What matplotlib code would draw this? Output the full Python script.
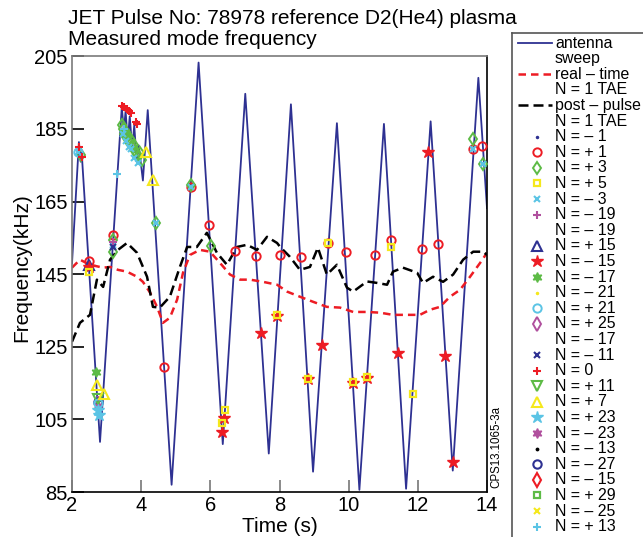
import matplotlib.pyplot as plt

plt.rcParams['font.family'] = ['Liberation Sans', 'DejaVu Sans']

# antenna sweep (triangle-like sweep of the antenna frequency)
ant_t = [2.0, 2.2, 2.25, 2.28, 2.81, 3.44, 3.5, 3.55, 3.61, 3.67, 3.74, 3.8, 3.87, 3.93, 4.05,
         4.19, 4.88, 5.66, 6.36, 7.01, 7.69, 8.33, 8.97, 9.66, 10.31, 11.02, 11.66, 12.37,
         13.01, 13.75, 14.0]
ant_f = [148.0, 181.4, 176.0, 178.5, 98.8, 191.0, 184.5, 190.0, 181.5, 188.5, 179.5, 186.0,
         176.0, 180.5, 170.8, 190.2, 87.0, 203.3, 98.2, 194.7, 95.6, 191.8, 90.6, 186.6, 85.6,
         186.4, 85.9, 187.1, 90.9, 199.1, 163.2]

# real-time N=1 TAE
rt_t = [2.0, 2.23, 2.52, 2.9, 3.1, 3.33, 3.59, 3.88, 4.05, 4.26, 4.46, 4.63, 4.83, 5.04, 5.21,
        5.41, 5.7, 5.99, 6.28, 6.57, 6.86, 7.15, 7.52, 7.93, 8.22, 8.59, 8.97, 9.37, 9.75,
        10.13, 10.53, 10.91, 11.28, 11.69, 12.06, 12.35, 12.64, 12.93, 13.22, 13.51, 13.8, 14.0]
rt_f = [146.8, 149.0, 147.6, 146.8, 147.0, 146.2, 145.7, 144.3, 142.9, 139.9, 136.0, 131.6,
        133.0, 138.0, 145.4, 150.3, 151.7, 151.2, 148.1, 144.9, 143.5, 143.5, 142.9, 142.1,
        140.2, 138.8, 137.4, 136.0, 135.8, 134.6, 134.6, 134.4, 133.8, 133.8, 133.8, 135.2,
        136.0, 138.8, 140.7, 144.3, 148.1, 150.9]

# post-pulse N=1 TAE
pp_t = [2.0, 2.23, 2.52, 2.72, 2.9, 3.1, 3.33, 3.59, 3.88, 4.17, 4.34, 4.54, 4.83, 5.12, 5.33,
        5.61, 5.9, 6.19, 6.48, 6.77, 7.06, 7.35, 7.64, 7.93, 8.02, 8.3, 8.59, 8.88, 9.11, 9.37,
        9.66, 9.95, 10.13, 10.53, 10.82, 11.11, 11.28, 11.57, 11.98, 12.15, 12.44, 12.73,
        13.02, 13.31, 13.6, 13.89, 14.0]
pp_f = [126.4, 131.6, 133.8, 143.5, 141.5, 149.0, 151.7, 153.6, 150.9, 144.3, 136.0, 135.8,
        138.8, 147.0, 152.5, 152.5, 156.4, 150.9, 147.6, 152.5, 153.1, 151.7, 155.3, 153.6,
        152.5, 149.8, 146.2, 147.0, 152.3, 144.9, 147.6, 141.3, 140.2, 143.0, 142.6, 142.1,
        145.7, 146.8, 145.4, 142.6, 144.3, 142.9, 144.9, 149.0, 151.2, 151.2, 150.3]

# measured modes
np1_t = [2.50, 3.18, 4.66, 5.43, 5.97, 6.71, 7.32, 8.02, 8.62, 9.40, 9.92, 10.76, 11.22, 12.12,
         12.58, 13.60, 13.86]
np1_f = [148.7, 155.8, 119.5, 169.1, 158.5, 151.4, 150.1, 150.4, 149.8, 153.6, 151.2, 150.3,
         154.5, 152.0, 153.4, 179.5, 180.3]
np3_t = [2.26, 3.18, 3.18, 3.44, 3.48, 3.5, 3.55, 3.58, 3.62, 3.66, 3.7, 3.74, 3.78, 3.83,
         3.87, 3.92, 3.96, 4.01, 4.43, 5.43, 6.02, 13.6, 13.89]
np3_f = [177.9, 154.5, 151.2, 186.1, 185.0, 183.5, 184.2, 182.8, 183.0, 181.5, 181.9, 180.2,
         180.5, 179.0, 178.2, 177.3, 178.5, 176.5, 159.0, 169.6, 152.8, 182.3, 175.4]
np5_t = [2.5, 6.34, 6.42, 7.93, 8.82, 9.40, 10.13, 10.53, 11.22, 11.86]
np5_f = [145.5, 104.1, 107.7, 133.8, 116.2, 153.6, 115.4, 116.6, 152.5, 112.1]
nm3_t = [2.17, 3.18, 3.47, 3.56, 3.65, 3.72, 3.8, 3.9, 4.43, 5.43, 13.6, 13.89]
nm3_f = [178.6, 153.0, 183.5, 181.8, 180.0, 179.5, 177.0, 175.5, 159.0, 169.1, 179.5, 175.4]
np21_t = [2.17, 2.75]
np21_f = [178.6, 109.5]
np23_t = [2.75, 2.78]
np23_f = [107.7, 106.3]
np13_t = [3.31, 3.5]
np13_f = [172.5, 185.0]
nm19_t = [3.18, 2.75]
nm19_f = [153.8, 110.3]
np15_t = [2.5]
np15_f = [147.6]
nm15_t = [2.5, 6.34, 6.4, 7.47, 7.93, 8.82, 9.23, 10.13, 10.53, 11.43, 12.3, 12.79, 13.01]
nm15_f = [147.0, 101.6, 105.5, 128.7, 133.6, 116.0, 125.6, 115.1, 116.5, 123.4, 178.7, 122.6,
          93.4]
nm17_t = [2.69]
nm17_f = [118.1]
nm11_t = [3.18, 2.75]
nm11_f = [152.5, 109.6]
n0_t = [2.2, 2.29, 3.44, 3.50, 3.58, 3.65, 3.72, 3.85, 3.89]
n0_f = [180.1, 177.3, 191.2, 191.0, 190.4, 190.0, 189.5, 186.9, 186.4]
np11_t = [2.75]
np11_f = [110.6]
np7_t = [2.72, 2.93, 4.13, 4.33]
np7_f = [114.6, 112.1, 178.8, 171.0]
nm23_t = [2.75]
nm23_f = [108.8]
nm27_t = [2.75]
nm27_f = [109.8]

BLUE = '#2e3192'
RED = '#ed1c24'
GREEN = '#5dbb46'
YELLOW = '#f5e81c'
CYAN = '#5bc4e5'
MAGENTA = '#b0509e'
HEX = (6, 1, 0)


def mk(marker, color, ms=6, hollow=False, mew=1.5):
    if hollow:
        return dict(ls='none', marker=marker, ms=ms, mfc='none', mec=color, mew=mew)
    return dict(ls='none', marker=marker, ms=ms, color=color, mew=mew)


s_ant = dict(color=BLUE, lw=1.3, ls='-')
s_rt = dict(color=RED, lw=1.8, ls=(0, (3, 2)))
s_pp = dict(color='black', lw=1.8, ls=(0, (4, 2)))
s_nm1 = mk('.', BLUE, 2)
s_np1 = mk('o', RED, 6, True, 1.4)
s_np3 = mk('d', GREEN, 6, True, 1.4)
s_np5 = mk('s', YELLOW, 5, True, 1.6)
s_nm3 = mk('x', CYAN, 4)
s_nm19 = mk('+', MAGENTA, 6)
s_np15 = mk('^', BLUE, 7, True)
s_nm15 = mk('*', RED, 9, mew=1.0)
s_nm17 = mk(HEX, GREEN, 7, mew=1.0)
s_nm21 = mk('.', YELLOW, 2)
s_np21 = mk('o', CYAN, 6, True, 1.4)
s_np25 = mk('d', MAGENTA, 7, True, 1.4)
s_nm11 = mk('x', BLUE, 4)
s_n0 = mk('+', RED, 6)
s_np11 = mk('v', GREEN, 7, True)
s_np7 = mk('^', YELLOW, 7, True)
s_np23 = mk('*', CYAN, 9, mew=1.0)
s_nm23 = mk(HEX, MAGENTA, 7, mew=1.0)
s_nm13 = mk('.', 'black', 2.5)
s_nm27 = mk('o', BLUE, 6, True)
s_nm15b = mk('d', RED, 7, True)
s_np29 = mk('s', GREEN, 5, True, 1.6)
s_nm25 = mk('x', YELLOW, 4)
s_np13 = mk('+', CYAN, 6)

legend_rows = [
    ('antenna', s_ant), ('sweep', None),
    ('real \u2013 time', s_rt), ('N = 1 TAE', None),
    ('post \u2013 pulse', s_pp), ('N = 1 TAE', None),
    ('N = \u2013 1', s_nm1), ('N = + 1', s_np1), ('N = + 3', s_np3), ('N = + 5', s_np5),
    ('N = \u2013 3', s_nm3), ('N = \u2013 19', s_nm19), ('N = \u2013 19', None),
    ('N = + 15', s_np15), ('N = \u2013 15', s_nm15), ('N = \u2013 17', s_nm17),
    ('N = \u2013 21', s_nm21), ('N = + 21', s_np21), ('N = + 25', s_np25),
    ('N = \u2013 17', None), ('N = \u2013 11', s_nm11), ('N = 0', s_n0),
    ('N = + 11', s_np11), ('N = + 7', s_np7), ('N = + 23', s_np23),
    ('N = \u2013 23', s_nm23), ('N = \u2013 13', s_nm13), ('N = \u2013 27', s_nm27),
    ('N = \u2013 15', s_nm15b), ('N = + 29', s_np29), ('N = \u2013 25', s_nm25),
    ('N = + 13', s_np13),
]

fig = plt.figure(figsize=(6.43, 5.37), dpi=100)
W, H = 643.0, 537.0
ax = fig.add_axes([72 / W, 1 - 492 / H, (487 - 72) / W, (492 - 56.4) / H])

ax.plot(ant_t, ant_f, **s_ant, zorder=2)
ax.plot(rt_t, rt_f, **s_rt, zorder=2)
ax.plot(pp_t, pp_f, **s_pp, zorder=2)

series = [
    (np1_t, np1_f, s_np1), (np3_t, np3_f, s_np3), (nm3_t, nm3_f, s_nm3),
    (np13_t, np13_f, s_np13), (nm19_t, nm19_f, s_nm19),
    (nm11_t, nm11_f, s_nm11), (nm27_t, nm27_f, s_nm27),
    (nm23_t, nm23_f, s_nm23), (np11_t, np11_f, s_np11),
    (np21_t, np21_f, s_np21), (np23_t, np23_f, s_np23),
    (nm17_t, nm17_f, s_nm17), (np7_t, np7_f, s_np7),
    (np15_t, np15_f, s_np15), (nm15_t, nm15_f, s_nm15),
    (np5_t, np5_f, s_np5), (n0_t, n0_f, s_n0),
]
for t, f, st in series:
    ax.plot(t, f, **st, zorder=3)

ax.set_xlim(2, 14)
ax.set_ylim(85, 205)
ax.set_xticks(range(2, 15, 2))
ax.set_yticks(range(85, 206, 20))
ax.tick_params(axis='both', direction='in', length=8.6, width=1.2, labelsize=14.5, pad=3)
ax.tick_params(axis='x', color='#777777')
for s in ['left', 'top']:
    ax.spines[s].set_color('#7a7a7a')
for s in ['right', 'bottom']:
    ax.spines[s].set_color('black')
for s in ax.spines.values():
    s.set_linewidth(1.2)

ax.set_xlabel('Time (s)', fontsize=15, labelpad=1)
fig.text(22 / W, 1 - 268 / H, 'Frequency(kHz)', rotation=90, fontsize=15,
         ha='center', va='center')
fig.text(68 / W, 1 - 24 / H, 'JET Pulse No: 78978 reference D2(He4) plasma', fontsize=15,
         va='baseline')
fig.text(68 / W, 1 - 45 / H, 'Measured mode frequency', fontsize=15, va='baseline')
fig.text(496 / W, 1 - 447 / H, 'CPS13.1065-3a', rotation=90, fontsize=8.3,
         ha='center', va='center')

# legend panel (box runs off the right and bottom edges of the figure)
lg = fig.add_axes([512 / W, -20 / H, 160 / W, (537 + 20 - 33) / H])
lg.set_xlim(0, 160)
lg.set_ylim(537 + 20 - 33, 0)
lg.set_xticks([])
lg.set_yticks([])
for s in lg.spines.values():
    s.set_color('#555555')
    s.set_linewidth(1.2)
for i, (lab, st) in enumerate(legend_rows):
    y = 10 + 15.6 * i
    if st is not None:
        if st.get('ls', '-') != 'none':
            lg.plot([6, 40], [y, y], **st)
        else:
            lg.plot([25], [y], **st)
    lg.text(43, y, lab, fontsize=11.4, va='center', ha='left')

fig.savefig('out.png', dpi=100)
